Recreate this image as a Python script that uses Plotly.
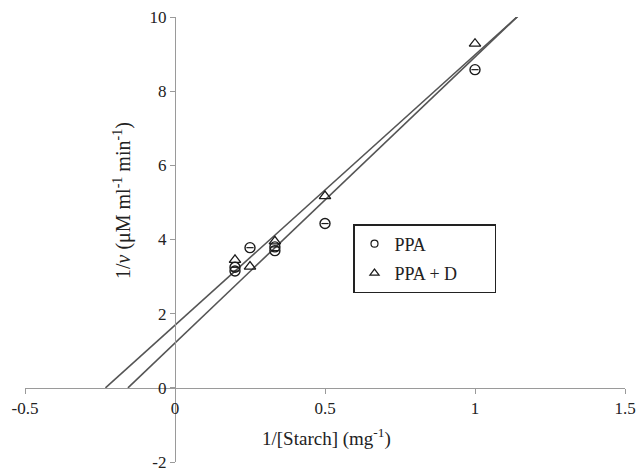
import plotly.graph_objects as go

# Data (Lineweaver-Burk plot)
ppa_x = [0.2, 0.2, 0.25, 0.333, 0.333, 0.5, 1.0]
ppa_y = [3.25, 3.15, 3.78, 3.80, 3.70, 4.43, 8.58]
ppad_x = [0.2, 0.25, 0.333, 0.5, 1.0]
ppad_y = [3.45, 3.27, 3.95, 5.17, 9.28]

# Trendlines (intercept, slope)
trend_names = ["PPA", "PPA + D"]
trend_intercepts = [1.69, 1.21]
trend_slopes = [7.29, 7.71]

x_range = [-0.5, 1.5]
y_range = [-2, 10]
x_ticks = [-0.5, 0, 0.5, 1, 1.5]
x_ticklabels = ["-0.5", "0", "0.5", "1", "1.5"]
y_ticks = [-2, 0, 2, 4, 6, 8, 10]
y_ticklabels = ["-2", "0", "2", "4", "6", "8", "10"]

FONT = "Liberation Serif, Times New Roman, serif"
TXT = "#222222"
MARK = "#1a1a1a"
LINE = "#555555"
AXIS = "#9a9a9a"
PAD = "\u00a0" * 7  # trailing room inside the legend box, as in the reference

fig = go.Figure()

for b, m in zip(trend_intercepts, trend_slopes):
    xs = [-b / m, (y_range[1] + 0.5 - b) / m]
    ys = [b + m * x for x in xs]
    fig.add_trace(go.Scatter(x=xs, y=ys, mode="lines", showlegend=False,
                             line=dict(color=LINE, width=1.6), hoverinfo="skip"))

fig.add_trace(go.Scatter(
    x=ppa_x, y=ppa_y, mode="markers", name="PPA", showlegend=False,
    marker=dict(symbol="circle-open", size=10, color=MARK, line=dict(width=1.4, color=MARK)),
    error_x=dict(type="constant", value=0.012, width=0, thickness=1.2, color=MARK),
))
fig.add_trace(go.Scatter(
    x=ppad_x, y=ppad_y, mode="markers", name="PPA + D", showlegend=False,
    marker=dict(symbol="triangle-up-open", size=10, color=MARK, line=dict(width=1.3, color=MARK)),
))

# legend-only entries (smaller symbols, as in the reference legend)
fig.add_trace(go.Scatter(
    x=[None], y=[None], mode="markers", name="PPA" + PAD, legendgroup="a",
    marker=dict(symbol="circle-open", size=7, color=MARK, line=dict(width=1.2, color=MARK)),
))
fig.add_trace(go.Scatter(
    x=[None], y=[None], mode="markers", name="PPA + D" + PAD, legendgroup="b",
    marker=dict(symbol="triangle-up-open", size=8, color=MARK, line=dict(width=1.2, color=MARK)),
))

fig.update_layout(
    width=636, height=471,
    template="none",
    paper_bgcolor="white", plot_bgcolor="white",
    margin=dict(l=25, r=11, t=17, b=9, autoexpand=False),
    font=dict(family=FONT, size=18, color=TXT),
    showlegend=True,
    legend=dict(
        x=(353 - 25) / 600, y=(462 - 224) / 445, xanchor="left", yanchor="top",
        bordercolor=TXT, borderwidth=1.5, bgcolor="white",
        font=dict(family=FONT, size=18, color=TXT),
        tracegroupgap=3, traceorder="grouped",
    ),
    xaxis=dict(
        range=x_range, tickmode="array", tickvals=x_ticks, ticktext=x_ticklabels,
        showgrid=False, zeroline=False, showline=True, linecolor=AXIS, linewidth=1.2,
        ticks="outside", ticklen=5, tickcolor=AXIS, tickwidth=1.2,
        anchor="free", position=2 / 12, automargin=False, ticklabeloverflow="allow",
        tickfont=dict(family=FONT, size=17, color=TXT),
    ),
    yaxis=dict(
        range=y_range, tickmode="array", tickvals=y_ticks, ticktext=y_ticklabels,
        showgrid=False, zeroline=False, showline=True, linecolor=AXIS, linewidth=1.2,
        ticks="outside", ticklen=5, tickcolor=AXIS, tickwidth=1.2,
        anchor="free", position=0.25, automargin=False, ticklabeloverflow="allow",
        tickfont=dict(family=FONT, size=17, color=TXT),
    ),
    annotations=[
        dict(text="1/[Starch] (mg<sup>-1</sup>)", x=0.505, y=-1.33, xref="x", yref="y",
             showarrow=False, font=dict(family=FONT, size=19, color=TXT)),
        dict(text="1/<i>v</i> (μM ml<sup>-1</sup> min<sup>-1</sup>)", x=(108 - 25) / 600, y=5.05,
             xref="paper", yref="y", showarrow=False, textangle=-90,
             font=dict(family=FONT, size=20, color=TXT)),
    ],
)

fig.write_html("out.html", config={"displayModeBar": False},
               post_script="document.body.style.margin='0';")
